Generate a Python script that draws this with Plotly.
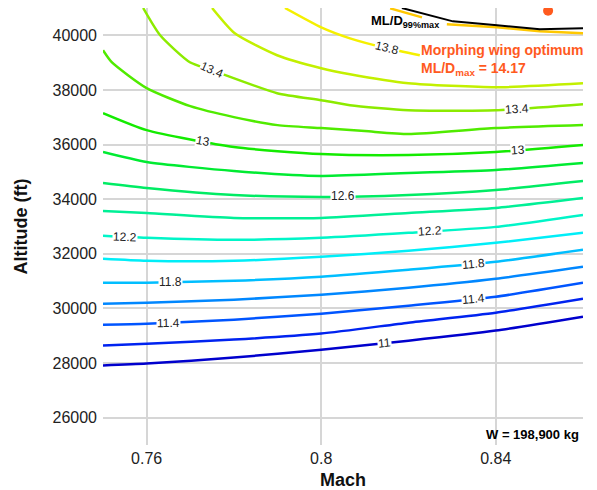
import plotly.graph_objects as go
import numpy as np

# ---------------- data ----------------
mach_std = [0.75, 0.76, 0.78, 0.80, 0.82, 0.84, 0.86]

alt_11_0 = [27910, 27980, 28200, 28490, 28820, 29190, 29700]
alt_11_2 = [28640, 28710, 28860, 29080, 29480, 29845, 30356]
alt_11_4 = [29406, 29443, 29589, 29808, 30101, 30430, 30941]
alt_11_6 = [30174, 30210, 30320, 30502, 30758, 31087, 31525]
alt_11_8 = [30941, 30941, 31014, 31160, 31416, 31708, 32146]
alt_12_0 = [31817, 31744, 31744, 31890, 32109, 32402, 32767]
alt_12_2 = [32657, 32584, 32511, 32584, 32767, 32986, 33425]
alt_12_4 = [33571, 33498, 33315, 33315, 33498, 33681, 34046]
alt_12_6 = [34594, 34411, 34155, 34082, 34155, 34338, 34667]
alt_12_8 = [35726, 35361, 35032, 34849, 34959, 35068, 35324]
alt_13_0 = [37151, 36530, 35909, 35653, 35616, 35726, 35982]

mach_13_2 = [0.75, 0.752, 0.76, 0.77, 0.78, 0.79, 0.80, 0.81, 0.82, 0.84, 0.86]
alt_13_2 = [39452, 39014, 38064, 37406, 37005, 36712, 36603, 36493, 36384, 36603, 36712]

mach_13_4 = [0.7592, 0.7631, 0.7699, 0.7750, 0.7899, 0.80, 0.8066, 0.82, 0.84, 0.86]
alt_13_4 = [41000, 40000, 39014, 38721, 37881, 37626, 37443, 37260, 37260, 37480]

mach_13_6 = [0.775, 0.7802, 0.7899, 0.80, 0.8066, 0.82, 0.84, 0.86]
alt_13_6 = [41000, 40073, 39270, 38795, 38575, 38247, 38100, 38247]

mach_13_8 = [0.7917, 0.80, 0.8066, 0.8151, 0.8226]
alt_13_8 = [41000, 40292, 39890, 39525, 39270]

# ML/D 99% max contour (gap where its label sits)
mach_99 = [0.8158, 0.8231, None, 0.8288, 0.8403, 0.8501, 0.86]
alt_99 = [40986, 40657, None, 40402, 40292, 40146, 40073]

# black boundary line
mach_bound = [0.8185, 0.8302, 0.8403, 0.8501, 0.86]
alt_bound = [41000, 40511, 40365, 40219, 40256]

# morphing wing optimum
opt_mach = [0.852]
opt_alt = [40900]

levels = [11.0, 11.2, 11.4, 11.6, 11.8, 12.0, 12.2, 12.4, 12.6, 12.8,
          13.0, 13.2, 13.4, 13.6, 13.8]
level_colors = [
    "rgb(0,0,205)", "rgb(0,35,240)", "rgb(0,85,255)", "rgb(0,135,255)",
    "rgb(0,190,255)", "rgb(0,238,248)", "rgb(0,245,200)", "rgb(0,240,150)",
    "rgb(0,236,100)", "rgb(0,235,50)", "rgb(20,235,0)", "rgb(80,235,0)",
    "rgb(140,235,0)", "rgb(195,240,0)", "rgb(245,240,0)",
]
contours_x = [mach_std] * 11 + [mach_13_2, mach_13_4, mach_13_6, mach_13_8]
contours_y = [alt_11_0, alt_11_2, alt_11_4, alt_11_6, alt_11_8, alt_12_0,
              alt_12_2, alt_12_4, alt_12_6, alt_12_8, alt_13_0,
              alt_13_2, alt_13_4, alt_13_6, alt_13_8]

# contour labels: (level index, text, Mach position, angle)
label_level = [0, 2, 2, 4, 4, 6, 6, 8, 10, 10, 12, 12, 14]
label_text = ["11", "11.4", "11.4", "11.8", "11.8", "12.2", "12.2", "12.6",
              "13", "13", "13.4", "13.4", "13.8"]
label_mach = [0.8146, 0.7649, 0.8348, 0.7654, 0.8348, 0.7550, 0.8249, 0.8050,
              0.7729, 0.8451, 0.7750, 0.8449, 0.8151]
label_angle = [-6, -1, -5, 0, -5, 2, -4, 0, 10, -4, 24, -4, 14]

x_ticks = [0.76, 0.80, 0.84]
x_ticktext = ["0.76", "0.8", "0.84"]
y_ticks = [26000, 28000, 30000, 32000, 34000, 36000, 38000, 40000]

FONT = "Liberation Sans, Arial, Helvetica, sans-serif"
ORANGE = "rgb(255,90,30)"

fig = go.Figure()

for xs, ys, col in zip(contours_x, contours_y, level_colors):
    fig.add_trace(go.Scatter(x=xs, y=ys, mode="lines",
                             line=dict(color=col, width=2.5, shape="spline", smoothing=0.6),
                             hoverinfo="skip", showlegend=False))

fig.add_trace(go.Scatter(x=mach_99, y=alt_99, mode="lines",
                         line=dict(color="rgb(255,200,0)", width=2.5),
                         connectgaps=False, showlegend=False))
fig.add_trace(go.Scatter(x=mach_bound, y=alt_bound, mode="lines",
                         line=dict(color="black", width=2), showlegend=False))
fig.add_trace(go.Scatter(x=opt_mach, y=opt_alt, mode="markers",
                         marker=dict(color=ORANGE, size=10), showlegend=False))

# contour labels
for li, txt, m, ang in zip(label_level, label_text, label_mach, label_angle):
    xs = contours_x[li]
    ys = contours_y[li]
    yv = float(np.interp(m, xs, ys))
    fig.add_annotation(x=m, y=yv, text=txt, showarrow=False, textangle=ang,
                       font=dict(family=FONT, size=12, color="#222"),
                       bgcolor="white", borderpad=0)

fig.add_annotation(x=0.811, y=40520, xanchor="left", yanchor="middle",
                   text="<b>ML/D<sub>99%max</sub></b>", showarrow=False,
                   font=dict(family=FONT, size=13, color="black"))
fig.add_annotation(x=0.8225, y=39100, xanchor="left", yanchor="middle", align="left",
                   text="<b>Morphing wing optimum<br>ML/D<sub>max</sub> = 14.17</b>",
                   showarrow=False, font=dict(family=FONT, size=14, color=ORANGE))
fig.add_annotation(x=0.8595, y=25390, xanchor="right", yanchor="middle",
                   text="<b>W = 198,900 kg</b>", showarrow=False,
                   font=dict(family=FONT, size=13, color="black"))

# the page body has an 8px margin: shrink the figure so the plot area lands
# at the same window position as in the reference
fig.update_layout(
    width=589, height=482,
    margin=dict(l=95, r=14, t=0, b=45, autoexpand=False),
    paper_bgcolor="white", plot_bgcolor="white",
    font=dict(family=FONT, size=16, color="#222"),
    showlegend=False,
)
fig.update_xaxes(range=[0.75, 0.86], tickvals=x_ticks, ticktext=x_ticktext,
                 showgrid=True, gridcolor="#d6d6d6", gridwidth=1.5,
                 zeroline=False, showline=False, ticks="", automargin=False,
                 ticklabelstandoff=2,
                 title=dict(text="<b>Mach</b>", font=dict(size=18, color="#111"), standoff=9))
fig.update_yaxes(range=[25000, 41000], tickvals=y_ticks, tickformat="d",
                 showgrid=True, gridcolor="#d6d6d6", gridwidth=1.5,
                 zeroline=False, showline=False, ticks="", automargin=False,
                 ticklabelstandoff=5,
                 title=dict(text="<b>Altitude (ft)</b>", font=dict(size=18, color="#111"), standoff=20))

fig.write_html("out.html")
